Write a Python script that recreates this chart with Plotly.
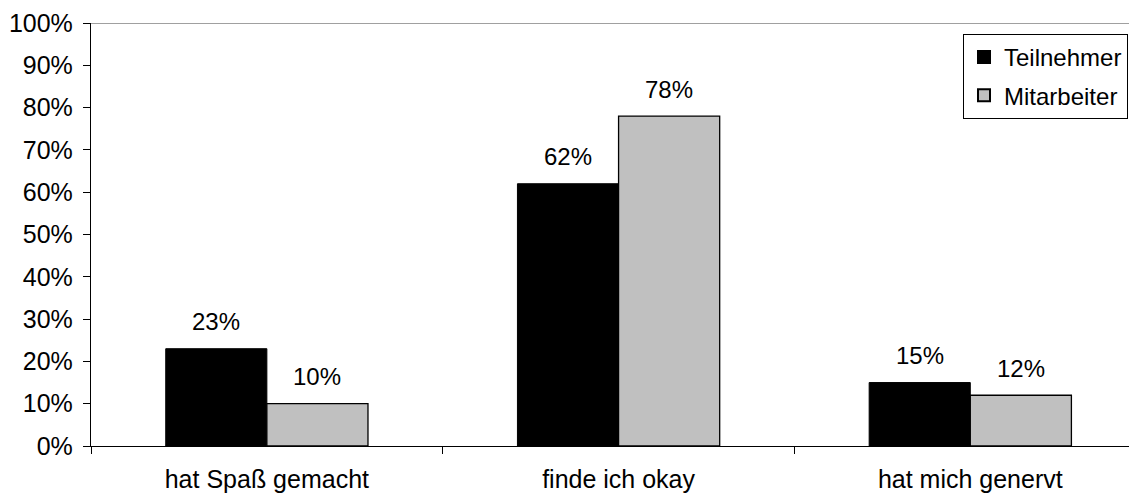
import plotly.graph_objects as go

categories = ["hat Spaß gemacht", "finde ich okay", "hat mich genervt"]
teilnehmer = [0.23, 0.62, 0.15]
mitarbeiter = [0.10, 0.78, 0.12]
series_names = ["Teilnehmer", "Mitarbeiter"]
y_ticks = [0, 0.1, 0.2, 0.3, 0.4, 0.5, 0.6, 0.7, 0.8, 0.9, 1.0]
y_tick_labels = ["0%", "10%", "20%", "30%", "40%", "50%", "60%", "70%", "80%", "90%", "100%"]

FONT = "Liberation Sans, Arial, sans-serif"
FS = 25

fig = go.Figure()
fig.add_trace(go.Bar(x=categories, y=teilnehmer, name=series_names[0], legendgroup="a",
                     marker=dict(color="#000000", line=dict(color="#000000", width=1))))
fig.add_trace(go.Bar(x=categories, y=mitarbeiter, name=series_names[1], legendgroup="b",
                     marker=dict(color="#C0C0C0", line=dict(color="#000000", width=1.3))))

for vals, shift in ((teilnehmer, -50.5), (mitarbeiter, 50.5)):
    for c, v in zip(categories, vals):
        fig.add_annotation(x=c, y=v, text=f"{round(v*100)}%", showarrow=False,
                           xshift=shift, yshift=27, yanchor="middle",
                           font=dict(family=FONT, size=FS - 1, color="#000000"))

fig.add_shape(type="line", xref="paper", yref="y", x0=0, x1=1, y0=1, y1=1,
              line=dict(color="#808080", width=1.5))

fig.update_layout(
    width=1137, height=495,
    margin=dict(l=83, r=8, t=15, b=56.5),
    paper_bgcolor="white", plot_bgcolor="white",
    barmode="group", bargap=0.425, bargroupgap=0,
    font=dict(family=FONT, size=FS, color="#000000"),
    showlegend=True,
    legend=dict(x=0.9914, xanchor="right", y=0.974, yanchor="top",
                bordercolor="#000000", borderwidth=1, bgcolor="white",
                font=dict(family=FONT, size=FS - 1, color="#000000"),
                tracegroupgap=4, itemsizing="constant", itemwidth=30),
    xaxis=dict(type="category", range=[-0.5, 2.474], showline=True, linecolor="#000000",
               linewidth=1.3, ticks="outside", tickson="boundaries", ticklen=7,
               tickcolor="#000000", showgrid=False, zeroline=False, automargin=False,
               ticklabelstandoff=11,
               tickfont=dict(family=FONT, size=FS, color="#000000")),
    yaxis=dict(range=[0, 1], tickvals=y_ticks, ticktext=y_tick_labels, showline=True,
               linecolor="#000000", linewidth=1.3, ticks="outside", ticklen=7,
               tickcolor="#000000", showgrid=False, zeroline=False, automargin=False,
               ticklabelstandoff=5,
               tickfont=dict(family=FONT, size=FS, color="#000000")),
)

fig.write_html("out.html")
